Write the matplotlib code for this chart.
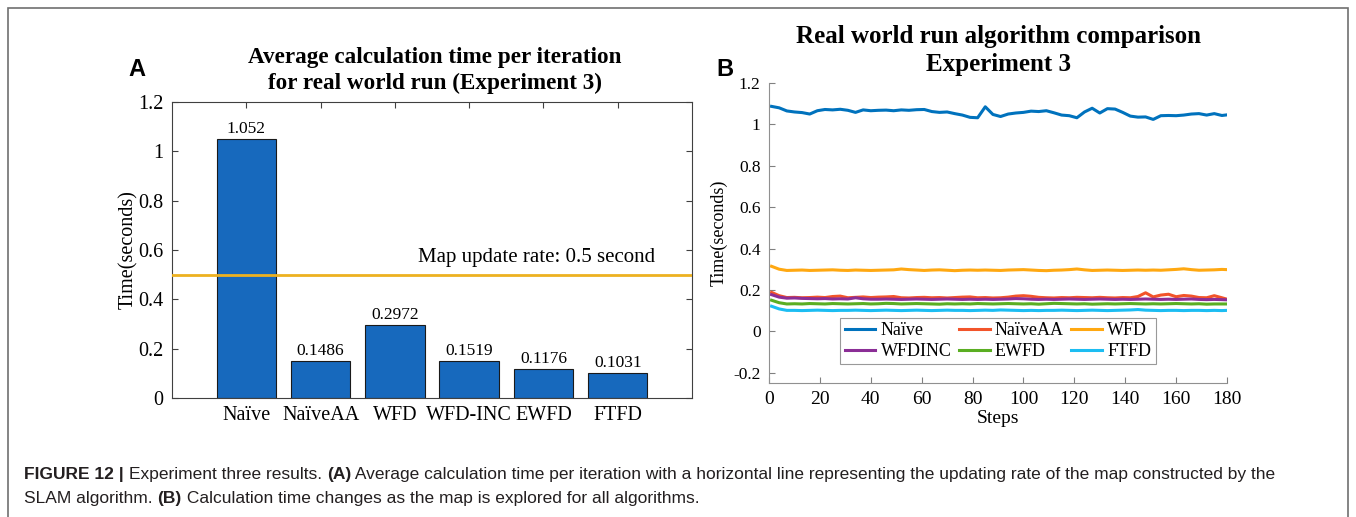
import matplotlib.pyplot as plt
import numpy as np
from matplotlib.patches import Rectangle

# ---- data: panel A (bar chart) ----
algorithms = ["Naïve", "NaïveAA", "WFD", "WFD-INC", "EWFD", "FTFD"]
avg_time = [1.052, 0.1486, 0.2972, 0.1519, 0.1176, 0.1031]
update_rate = 0.5

# ---- data: panel B (time per step) ----
steps = [1, 4, 7, 10, 13, 16, 19, 22, 25, 28, 31, 34, 37, 40, 43, 46, 49, 52, 55, 58,
         61, 64, 67, 70, 73, 76, 79, 82, 85, 88, 91, 94, 97, 100, 103, 106, 109, 112, 115, 118,
         121, 124, 127, 130, 133, 136, 139, 142, 145, 148, 151, 154, 157, 160, 163, 166, 169, 172, 175, 178,
         180]
naive = [1.087, 1.080, 1.065, 1.060, 1.057, 1.050, 1.066, 1.072, 1.070, 1.073,
         1.068, 1.058, 1.070, 1.066, 1.068, 1.069, 1.066, 1.070, 1.068, 1.071,
         1.072, 1.062, 1.058, 1.060, 1.052, 1.045, 1.034, 1.032, 1.085, 1.048,
         1.038, 1.050, 1.055, 1.058, 1.064, 1.062, 1.066, 1.056, 1.045, 1.042,
         1.032, 1.060, 1.078, 1.055, 1.076, 1.074, 1.058, 1.040, 1.035, 1.036,
         1.024, 1.042, 1.043, 1.042, 1.045, 1.050, 1.052, 1.045, 1.052, 1.043,
         1.046]
naive_aa = [0.188, 0.172, 0.163, 0.164, 0.162, 0.163, 0.165, 0.163, 0.168, 0.170,
            0.162, 0.164, 0.166, 0.163, 0.165, 0.166, 0.168, 0.162, 0.161, 0.163,
            0.164, 0.162, 0.163, 0.161, 0.163, 0.165, 0.166, 0.162, 0.163, 0.161,
            0.162, 0.165, 0.170, 0.172, 0.169, 0.164, 0.162, 0.161, 0.163, 0.162,
            0.164, 0.163, 0.162, 0.164, 0.162, 0.161, 0.163, 0.162, 0.168, 0.186,
            0.166, 0.175, 0.179, 0.167, 0.173, 0.170, 0.163, 0.162, 0.172, 0.162,
            0.155]
wfd = [0.314, 0.300, 0.294, 0.295, 0.296, 0.294, 0.295, 0.296, 0.297, 0.295,
       0.294, 0.296, 0.295, 0.294, 0.295, 0.296, 0.297, 0.301, 0.298, 0.296,
       0.294, 0.296, 0.297, 0.295, 0.293, 0.295, 0.296, 0.295, 0.296, 0.295,
       0.294, 0.296, 0.297, 0.298, 0.296, 0.294, 0.293, 0.295, 0.296, 0.298,
       0.301, 0.297, 0.294, 0.295, 0.296, 0.295, 0.294, 0.295, 0.296, 0.295,
       0.296, 0.295, 0.297, 0.299, 0.302, 0.298, 0.295, 0.296, 0.297, 0.299,
       0.298]
wfd_inc = [0.177, 0.165, 0.160, 0.161, 0.159, 0.158, 0.157, 0.158, 0.156, 0.157,
           0.156, 0.162, 0.157, 0.155, 0.155, 0.156, 0.155, 0.154, 0.155, 0.156,
           0.155, 0.154, 0.155, 0.156, 0.155, 0.154, 0.155, 0.154, 0.155, 0.154,
           0.155, 0.156, 0.158, 0.157, 0.155, 0.154, 0.155, 0.154, 0.155, 0.156,
           0.155, 0.154, 0.155, 0.156, 0.155, 0.154, 0.155, 0.154, 0.155, 0.156,
           0.155, 0.154, 0.155, 0.154, 0.155, 0.156, 0.154, 0.153, 0.154, 0.153,
           0.152]
ewfd = [0.150, 0.138, 0.132, 0.133, 0.132, 0.134, 0.133, 0.132, 0.134, 0.133,
        0.132, 0.133, 0.134, 0.132, 0.133, 0.135, 0.134, 0.132, 0.133, 0.134,
        0.133, 0.132, 0.131, 0.133, 0.132, 0.133, 0.132, 0.134, 0.133, 0.132,
        0.133, 0.134, 0.133, 0.132, 0.133, 0.131, 0.133, 0.135, 0.134, 0.133,
        0.132, 0.133, 0.131, 0.132, 0.133, 0.132, 0.133, 0.134, 0.133, 0.132,
        0.133, 0.132, 0.133, 0.134, 0.133, 0.132, 0.133, 0.131, 0.132, 0.132,
        0.132]
ftfd = [0.121, 0.108, 0.101, 0.101, 0.100, 0.101, 0.102, 0.101, 0.100, 0.101,
        0.101, 0.102, 0.101, 0.100, 0.101, 0.102, 0.101, 0.100, 0.101, 0.102,
        0.101, 0.100, 0.101, 0.102, 0.101, 0.101, 0.100, 0.101, 0.102, 0.101,
        0.103, 0.102, 0.101, 0.100, 0.101, 0.100, 0.101, 0.101, 0.102, 0.101,
        0.100, 0.101, 0.102, 0.101, 0.100, 0.101, 0.102, 0.103, 0.105, 0.102,
        0.101, 0.100, 0.101, 0.101, 0.100, 0.101, 0.101, 0.100, 0.101, 0.100,
        0.101]

series_names = ["Naïve", "NaïveAA", "WFD", "WFDINC", "EWFD", "FTFD"]
series_vals = [naive, naive_aa, wfd, wfd_inc, ewfd, ftfd]
series_colors = ["#0072BD", "#F2542A", "#FFA811", "#8B2E96", "#5AAE22", "#1CBDF2"]

plt.rcParams['font.family'] = ['Liberation Serif', 'DejaVu Serif']

fig = plt.figure(figsize=(13.56, 5.17), dpi=100)
W, H = 1356, 517

def px_axes(x0, y0, x1, y1):
    return fig.add_axes([x0 / W, 1 - y1 / H, (x1 - x0) / W, (y1 - y0) / H])

# outer frame
fig.add_artist(Rectangle((8 / W, -0.05), (1348 - 8) / W, 1 - 8 / H + 0.05,
                         transform=fig.transFigure, fill=False,
                         edgecolor='#707070', linewidth=1.2))

# ---- panel A ----
axA = px_axes(172, 102, 692, 398)
xpos = np.arange(1, len(algorithms) + 1)
axA.bar(xpos, avg_time, width=0.8, color='#1769BD', edgecolor='#1a1a1a', linewidth=0.8, zorder=2)
for x, v in zip(xpos, avg_time):
    axA.text(x, v + 0.008, f"{v:g}", ha='center', va='bottom', fontsize=12.5)
axA.axhline(update_rate, color='#EDB120', linewidth=2, zorder=3)
axA.text(6.5, update_rate + 0.03, "Map update rate: 0.5 second", ha='right', va='bottom', fontsize=15)
axA.set_xlim(0, 7)
axA.set_ylim(0, 1.2)
axA.set_xticks(xpos)
axA.set_xticklabels(algorithms, fontsize=14.5)
axA.set_yticks([0, 0.2, 0.4, 0.6, 0.8, 1.0, 1.2])
axA.set_yticklabels(["0", "0.2", "0.4", "0.6", "0.8", "1", "1.2"], fontsize=14.5)
axA.set_ylabel("Time(seconds)", fontsize=14.5, labelpad=0)
axA.tick_params(direction='in', top=True, right=True, length=4, color='#404040', pad=6)
for s in axA.spines.values():
    s.set_color('#404040')
    s.set_linewidth(0.8)
fig.text(435 / W, 1 - 57 / H, "Average calculation time per iteration", fontsize=16.7,
         fontweight='bold', ha='center', va='center')
fig.text(435 / W, 1 - 83 / H, "for real world run (Experiment 3)", fontsize=16.7,
         fontweight='bold', ha='center', va='center')
fig.text(128 / W, 1 - 70 / H, "A", fontsize=17, fontweight='bold', family='Liberation Sans',
         va='center', ha='left')

# ---- panel B ----
axB = px_axes(769, 83, 1227, 383)
lines = []
for name, vals, col in zip(series_names, series_vals, series_colors):
    ln, = axB.plot(steps, vals, color=col, linewidth=2.2, label=name)
    lines.append(ln)
axB.set_xlim(0, 180)
axB.set_ylim(-0.25, 1.2)
axB.set_xticks(range(0, 181, 20))
axB.set_yticks([-0.2, 0, 0.2, 0.4, 0.6, 0.8, 1.0, 1.2])
axB.set_yticklabels(["-0.2", "0", "0.2", "0.4", "0.6", "0.8", "1", "1.2"], fontsize=12.5)
axB.tick_params(axis='x', labelsize=14)
axB.tick_params(direction='in', length=4, color='#808080', pad=6)
axB.spines['top'].set_visible(False)
axB.spines['right'].set_visible(False)
for s in ('left', 'bottom'):
    axB.spines[s].set_color('#909090')
axB.set_xlabel("Steps", fontsize=14, labelpad=1)
axB.set_ylabel("Time(seconds)", fontsize=13, labelpad=4)
# legend fills row by row: reorder for matplotlib's column-major filling
order = [0, 3, 1, 4, 2, 5]
leg = axB.legend([lines[i] for i in order], [series_names[i] for i in order],
                 ncol=3, loc='lower center', bbox_to_anchor=(0.5, 0.062), fontsize=13,
                 frameon=True, fancybox=False, edgecolor='#808080', handlelength=1.7,
                 columnspacing=0.4, handletextpad=0.3, labelspacing=0.2, borderpad=0.25,
                 borderaxespad=0)
leg.get_frame().set_linewidth(0.8)
fig.text(998 / W, 1 - 37 / H, "Real world run algorithm comparison", fontsize=18,
         fontweight='bold', ha='center', va='center')
fig.text(998 / W, 1 - 64 / H, "Experiment 3", fontsize=18,
         fontweight='bold', ha='center', va='center')
fig.text(716 / W, 1 - 70 / H, "B", fontsize=17, fontweight='bold', family='Liberation Sans',
         va='center', ha='left')

# ---- caption with mixed bold/regular runs ----
cap_lines = [
    [("FIGURE 12 | ", True), ("Experiment three results. ", False), ("(A)", True),
     (" Average calculation time per iteration with a horizontal line representing the updating rate of the map constructed by the", False)],
    [("SLAM algorithm. ", False), ("(B)", True),
     (" Calculation time changes as the map is explored for all algorithms.", False)],
]
cap_y = [475, 498]
renderer = fig.canvas.get_renderer()
for runs, yy in zip(cap_lines, cap_y):
    x = 24
    for txt, bold in runs:
        t = fig.text(x / W, 1 - yy / H, txt, fontsize=12.5, family='Liberation Sans',
                     fontweight='bold' if bold else 'normal', va='center', ha='left',
                     color='#231f20')
        bb = t.get_window_extent(renderer=renderer)
        x += bb.width

fig.savefig("out.png", dpi=100)
